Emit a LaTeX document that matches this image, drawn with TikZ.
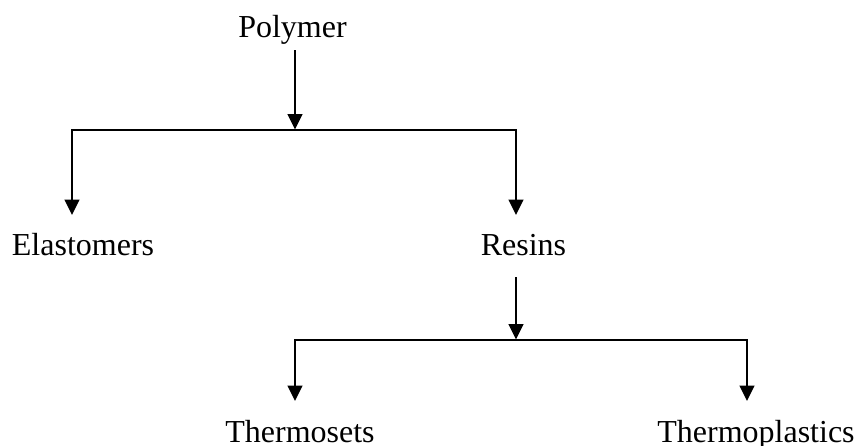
\documentclass[tikz,border=0pt]{standalone}
\usepackage{fontspec}
\setmainfont{Liberation Serif}
\usetikzlibrary{arrows.meta}
\begin{document}
\begin{tikzpicture}[x=0.75pt,y=-0.75pt,
  lbl/.style={anchor=base,inner sep=0pt,font=\fontsize{24}{28}\selectfont},
  conn/.style={line width=1.5pt,line join=miter},
  arr/.style={conn,-{Triangle[length=11.5pt,width=11pt]}}]
\useasboundingbox (0,0) rectangle (857,446);
\node[lbl] (polymer) at (292.5,37) {Polymer};
\node[lbl] (elast) at (83,255) {Elastomers};
\node[lbl] (resins) at (523.5,255) {Resins};
\node[lbl] (thermosets) at (300,442) {Thermosets};
\node[lbl] (thermoplastics) at (756,442) {Thermoplastics};
\coordinate (a1) at (295,50);
\coordinate (j1) at (295,129.5);
\coordinate (l1) at (72,129.5);
\coordinate (lt1) at (72,215);
\coordinate (r1) at (516,129.5);
\coordinate (rt1) at (516,215);
\coordinate (a2) at (516,277);
\coordinate (j2) at (516,339.5);
\coordinate (l2) at (295,339.5);
\coordinate (lt2) at (295,401);
\coordinate (r2) at (747,339.5);
\coordinate (rt2) at (747,401);
\draw[arr] (a1) -- (j1);
\draw[arr] (j1) -- (l1) -- (lt1);
\draw[arr] (j1) -- (r1) -- (rt1);
\draw[arr] (a2) -- (j2);
\draw[arr] (j2) -- (l2) -- (lt2);
\draw[arr] (j2) -- (r2) -- (rt2);
\end{tikzpicture}
\end{document}
